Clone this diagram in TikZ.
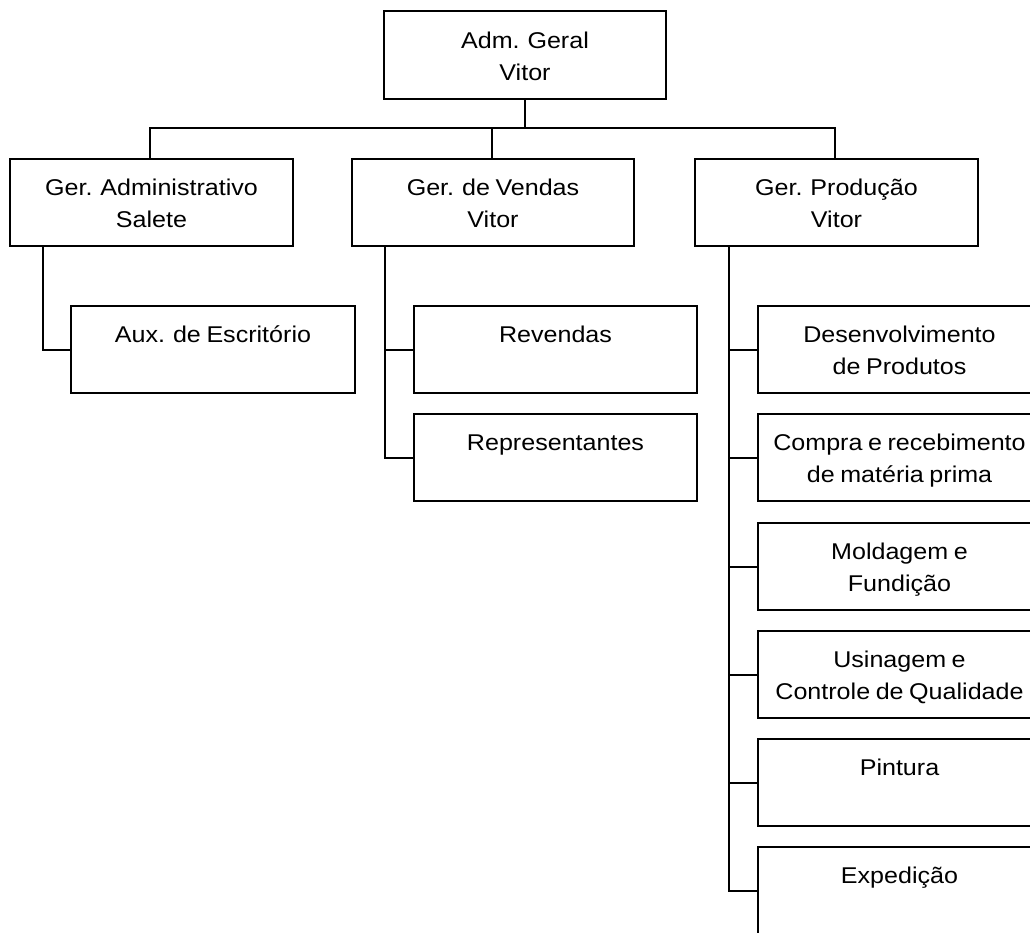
\documentclass[tikz,border=0pt]{standalone}
\usepackage{fontspec}
\setmainfont{Liberation Sans}[FakeStretch=1.1,WordSpace=0.8]
\begin{document}
\begin{tikzpicture}[x=1pt,y=-1pt,
  box/.style={draw,line width=2pt,rectangle,inner sep=0pt,outer sep=0pt,
    anchor=north west,minimum width=283pt,minimum height=87pt},
  txt/.style={anchor=base,inner sep=0pt,
    font=\fontsize{22.8}{32}\selectfont},
  link/.style={line width=2pt}]
\useasboundingbox (0,0) rectangle (1030,932);
\fill[white] (0,0) rectangle (1030,932);
\clip (0,0) rectangle (1030,932);

% boxes
\node[box,minimum width=282pt,minimum height=88pt] (adm) at (384,11) {};
\node[box] (gadm)  at (10,159) {};
\node[box,minimum width=282pt] (gvend) at (352,159) {};
\node[box] (gprod) at (695,159) {};

\node[box,minimum width=284pt] (aux) at (71,306) {};
\node[box] (rev) at (414,306) {};
\node[box] (rep) at (414,414) {};

\node[box] (p1) at (758,306) {};
\node[box] (p2) at (758,414) {};
\node[box] (p3) at (758,523) {};
\node[box] (p4) at (758,631) {};
\node[box] (p5) at (758,739) {};
\node[box] (p6) at (758,847) {};

% texts
\newcommand\twolines[2]{\begin{tabular}[t]{@{}c@{}}#1\\#2\end{tabular}}
\node[txt] (tadm)  at ([yshift=-37pt]adm.north)  {\twolines{Adm. Geral}{Vitor}};
\node[txt] (tgadm) at ([yshift=-36pt]gadm.north) {\twolines{Ger. Administrativo}{Salete}};
\node[txt] (tgven) at ([yshift=-36pt]gvend.north) {\twolines{Ger. de Vendas}{Vitor}};
\node[txt] (tgpro) at ([yshift=-36pt]gprod.north) {\twolines{Ger. Produção}{Vitor}};
\node[txt] (taux)  at ([yshift=-36pt]aux.north) {Aux. de Escritório};
\node[txt] (trev)  at ([yshift=-36pt]rev.north) {Revendas};
\node[txt] (trep)  at ([yshift=-36pt]rep.north) {Representantes};
\node[txt] (tp1) at ([yshift=-36pt]p1.north) {\twolines{Desenvolvimento}{de Produtos}};
\node[txt] (tp2) at ([yshift=-36pt]p2.north) {\twolines{Compra e recebimento}{de matéria prima}};
\node[txt] (tp3) at ([yshift=-36pt]p3.north) {\twolines{Moldagem e}{Fundição}};
\node[txt] (tp4) at ([yshift=-36pt]p4.north) {\twolines{Usinagem e}{Controle de Qualidade}};
\node[txt] (tp5) at ([yshift=-36pt]p5.north) {Pintura};
\node[txt] (tp6) at ([yshift=-36pt]p6.north) {Expedição};

% top level connectors
\draw[link] (adm.south) -- ++(0,29) coordinate (bus);
\draw[link] ([xshift=-1.5pt]gadm.north) |- (bus) -| ([xshift=-1.5pt]gprod.north);
\draw[link] ([xshift=-1pt]gvend.north) -- ++(0,-31);

% department connectors
\draw[link] ([xshift=33pt]gadm.south west) |- (aux.west);
\draw[link] ([xshift=33pt]gvend.south west) |- (rev.west);
\draw[link] ([xshift=33pt]gvend.south west) |- (rep.west);
\foreach \p in {p1,p2,p3,p4,p5,p6}
  \draw[link] ([xshift=34pt]gprod.south west) |- (\p.west);
\end{tikzpicture}
\end{document}
